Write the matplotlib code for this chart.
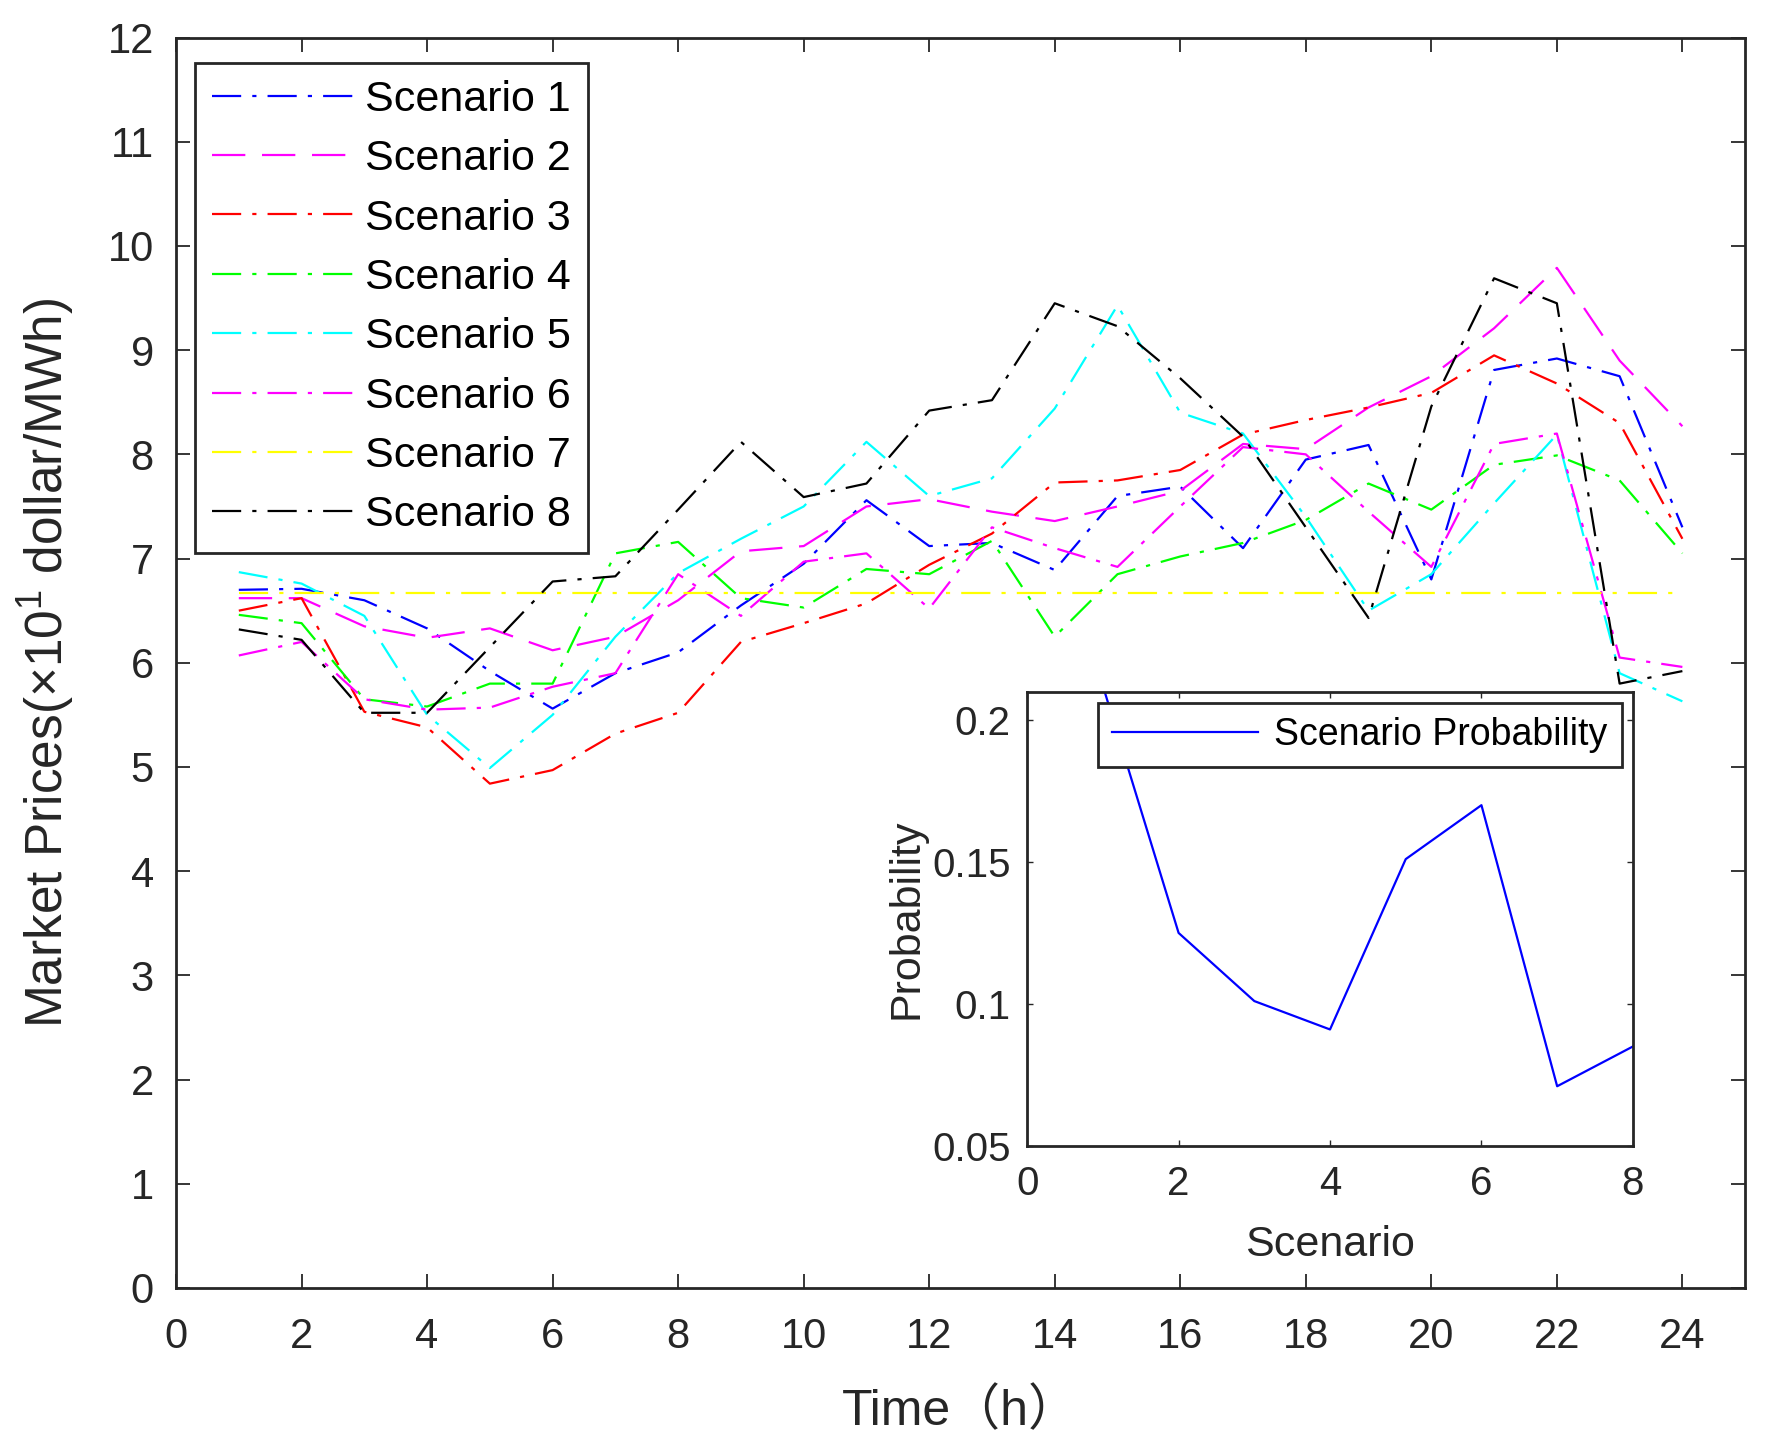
import numpy as np
import matplotlib
matplotlib.use("Agg")
import matplotlib.pyplot as plt

plt.rcParams['font.family'] = ['Liberation Sans', 'Noto Sans CJK SC', 'DejaVu Sans']
plt.rcParams['mathtext.fontset'] = 'custom'
plt.rcParams['mathtext.rm'] = 'Liberation Sans'
plt.rcParams['lines.scale_dashes'] = False

# market price scenarios (x10 dollar/MWh), hours 1..24
hours = np.arange(1, 25)
s1 = [6.70, 6.71, 6.60, 6.33, 5.92, 5.56, 5.90, 6.10, 6.55, 6.95, 7.56, 7.12,
      7.15, 6.89, 7.60, 7.69, 7.10, 7.95, 8.09, 6.80, 8.81, 8.92, 8.75, 7.30]
s2 = [6.62, 6.62, 6.35, 6.24, 6.33, 6.12, 6.25, 6.60, 7.07, 7.12, 7.50, 7.57,
      7.45, 7.36, 7.50, 7.65, 8.10, 8.05, 8.45, 8.75, 9.21, 9.79, 8.90, 8.27]
s3 = [6.50, 6.62, 5.53, 5.38, 4.84, 4.97, 5.32, 5.52, 6.20, 6.38, 6.57, 6.94,
      7.24, 7.73, 7.75, 7.85, 8.19, 8.33, 8.45, 8.59, 8.95, 8.68, 8.30, 7.19]
s4 = [6.46, 6.38, 5.65, 5.58, 5.80, 5.80, 7.05, 7.16, 6.62, 6.53, 6.90, 6.85,
      7.17, 6.25, 6.85, 7.02, 7.15, 7.37, 7.72, 7.47, 7.90, 7.99, 7.75, 7.05]
s5 = [6.87, 6.76, 6.45, 5.50, 4.99, 5.50, 6.25, 6.86, 7.19, 7.50, 8.12, 7.60,
      7.77, 8.44, 9.43, 8.40, 8.20, 7.40, 6.50, 6.85, 7.53, 8.19, 5.90, 5.63]
s6 = [6.07, 6.20, 5.65, 5.55, 5.57, 5.77, 5.90, 6.85, 6.45, 6.97, 7.05, 6.52,
      7.30, 7.10, 6.92, 7.50, 8.07, 8.00, 7.45, 6.92, 8.10, 8.20, 6.05, 5.96]
s7 = [6.67] * 24
s8 = [6.32, 6.22, 5.52, 5.52, 6.15, 6.78, 6.83, 7.47, 8.12, 7.59, 7.72, 8.42,
      8.52, 9.45, 9.23, 8.73, 8.17, 7.30, 6.43, 8.46, 9.69, 9.45, 5.80, 5.92]
series = [s1, s2, s3, s4, s5, s6, s7, s8]
labels = ['Scenario %d' % i for i in range(1, 9)]
colors = ['#0000ff', '#ff00ff', '#ff0000', '#00ff00',
          '#00ffff', '#ff00ff', '#ffff00', '#000000']

# scenario probabilities
scen = np.arange(1, 9)
prob = [0.212, 0.125, 0.101, 0.091, 0.151, 0.170, 0.071, 0.085]

dashdot = (0, (21, 8, 3, 8))
dashed = (0, (24, 12))
txt = '#262626'

fig = plt.figure(figsize=(17.71, 14.56), dpi=100)
ax = fig.add_axes([0.0994, 0.1154, 0.886, 0.8588])

for i, s in enumerate(series):
    ls = dashed if i == 1 else dashdot
    ax.plot(hours, s, color=colors[i], linestyle=ls, linewidth=1.6, label=labels[i])

ax.set_xlim(0, 25)
ax.set_ylim(0, 12)
ax.set_xticks(np.arange(0, 25, 2))
ax.set_yticks(np.arange(0, 13, 1))
ax.tick_params(direction='in', top=True, right=True, length=10, width=1.3,
               labelsize=30, colors=txt)
ax.tick_params(axis='x', pad=21)
ax.tick_params(axis='y', pad=16)
for sp in ax.spines.values():
    sp.set_linewidth(2)
    sp.set_color(txt)

ax.set_xlabel('Time（h）', fontsize=36, color=txt)
ax.set_ylabel('Market Prices(×10$^1$ dollar/MWh)', fontsize=37, color=txt)
ax.xaxis.set_label_coords(0.5, -0.08)
ax.yaxis.set_label_coords(-0.063, 0.5)

leg = ax.legend(loc='upper left', bbox_to_anchor=(0.012, 0.98), borderaxespad=0,
                fontsize=31, handlelength=3.35, labelspacing=0.45,
                fancybox=False, edgecolor=txt, framealpha=1,
                borderpad=0.4, handletextpad=0.2)
leg.get_frame().set_linewidth(2)

# inset: scenario probability
ax2 = fig.add_axes([0.580, 0.213, 0.342, 0.312])
ax2.plot(scen, prob, color='#0000ff', linewidth=1.6, label='Scenario Probability')
ax2.set_xlim(0, 8)
ax2.set_ylim(0.05, 0.21)
ax2.set_xticks([0, 2, 4, 6, 8])
ax2.set_yticks([0.05, 0.1, 0.15, 0.2])
ax2.set_yticklabels(['0.05', '0.1', '0.15', '0.2'])
ax2.tick_params(direction='in', top=True, right=True, length=4, width=1,
                labelsize=29, colors=txt)
ax2.tick_params(axis='x', pad=14)
ax2.tick_params(axis='y', pad=12)
for sp in ax2.spines.values():
    sp.set_linewidth(2)
    sp.set_color(txt)
ax2.set_xlabel('Scenario', fontsize=31, color=txt)
ax2.set_ylabel('Probability', fontsize=31, color=txt)
ax2.xaxis.set_label_coords(0.5, -0.175)
ax2.yaxis.set_label_coords(-0.166, 0.5)
leg2 = ax2.legend(loc='upper right', fontsize=27, handlelength=3.9, fancybox=False,
                  edgecolor=txt, framealpha=1, borderpad=0.37, handletextpad=0.43,
                  borderaxespad=0.3)
leg2.get_frame().set_linewidth(2)

fig.savefig('out.png', dpi=100)
